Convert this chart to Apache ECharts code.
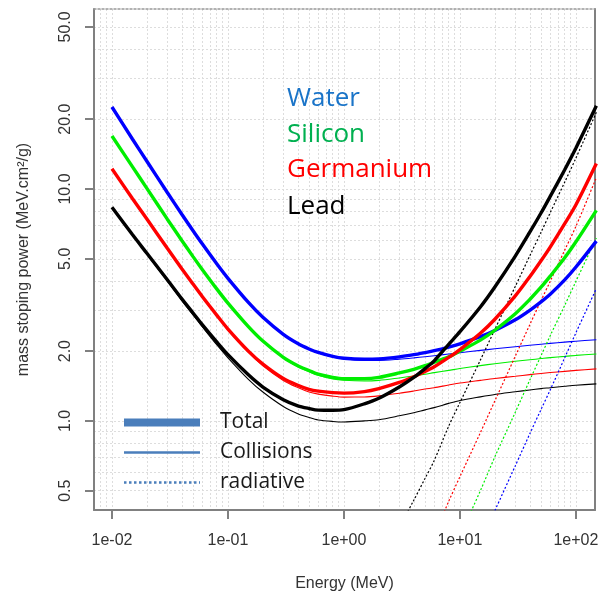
<!DOCTYPE html>
<html><head><meta charset="utf-8">
<script src="https://cdn.jsdelivr.net/npm/echarts@6/dist/echarts.min.js"></script>
<style>html,body{margin:0;padding:0;background:#fff}#c{width:606px;height:597px}</style>
</head><body><div id="c"></div>
<script>
// ---- data (MeV, MeV.cm2/g) ----
const energy = [0.01,0.015,0.02,0.03,0.04,0.05,0.06,0.08,0.1,0.15,0.2,0.3,0.4,0.5,0.6,0.8,1,1.5,2,3,4,5,6,8,10,15,20,30,40,50,60,80,100,150];

const waterTotal = [22.56,16.42,13.17,9.657,7.781,6.607,5.801,4.761,4.120,3.243,2.799,2.362,2.156,2.043,1.973,1.897,1.862,1.844,1.851,1.889,1.930,1.971,2.008,2.082,2.151,2.309,2.456,2.729,2.999,3.262,3.520,4.057,4.607,5.960];
const waterColl  = [22.56,16.42,13.17,9.653,7.777,6.603,5.797,4.757,4.115,3.238,2.793,2.355,2.148,2.034,1.963,1.886,1.849,1.824,1.824,1.846,1.870,1.892,1.911,1.943,1.968,2.014,2.046,2.089,2.119,2.142,2.160,2.187,2.207,2.240];
const waterRad   = [0.0039,0.0040,0.0040,0.0041,0.0042,0.0042,0.0043,0.0044,0.0046,0.0050,0.0055,0.0065,0.0076,0.0088,0.0100,0.0114,0.0129,0.0200,0.0270,0.0430,0.0600,0.0790,0.0970,0.139,0.183,0.295,0.410,0.640,0.880,1.12,1.36,1.87,2.40,3.72];

const siTotal = [16.91,12.49,10.06,7.41,6.00,5.11,4.50,3.71,3.22,2.55,2.21,1.88,1.73,1.65,1.59,1.54,1.52,1.52,1.54,1.61,1.67,1.73,1.79,1.89,2.00,2.23,2.46,2.90,3.34,3.77,4.21,5.05,5.92,8.09];
const siColl  = [16.90,12.48,10.05,7.40,5.99,5.10,4.49,3.70,3.21,2.54,2.20,1.87,1.71,1.63,1.574,1.518,1.498,1.487,1.496,1.532,1.561,1.589,1.615,1.652,1.683,1.732,1.764,1.807,1.835,1.857,1.875,1.898,1.916,1.944];
const siRad   = [0.0093,0.0096,0.0098,0.0101,0.0103,0.0105,0.0107,0.0110,0.0113,0.0120,0.0126,0.0139,0.0152,0.0165,0.0178,0.0205,0.0235,0.034,0.047,0.075,0.105,0.137,0.170,0.240,0.318,0.50,0.70,1.09,1.50,1.91,2.33,3.15,4.00,6.15];

const geTotal = [12.22,9.10,7.42,5.55,4.53,3.89,3.44,2.86,2.49,2.00,1.76,1.525,1.425,1.368,1.344,1.324,1.318,1.338,1.379,1.466,1.551,1.632,1.711,1.878,2.031,2.386,2.744,3.458,4.183,4.902,5.616,7.086,8.551,12.876];
const geColl  = [12.20,9.08,7.40,5.53,4.51,3.87,3.42,2.84,2.47,1.975,1.73,1.495,1.392,1.332,1.305,1.279,1.267,1.268,1.282,1.316,1.346,1.372,1.391,1.428,1.456,1.496,1.524,1.558,1.583,1.602,1.616,1.636,1.651,1.676];
const geRad   = [0.020,0.021,0.021,0.022,0.022,0.023,0.023,0.024,0.024,0.026,0.027,0.030,0.033,0.036,0.039,0.045,0.051,0.070,0.097,0.150,0.205,0.260,0.320,0.450,0.575,0.89,1.22,1.90,2.60,3.30,4.00,5.45,6.90,11.2];

const pbTotal = [8.34,6.36,5.28,4.06,3.36,2.92,2.60,2.19,1.93,1.58,1.40,1.234,1.162,1.131,1.113,1.111,1.118,1.185,1.252,1.400,1.540,1.681,1.816,2.140,2.425,3.10,3.78,5.135,6.51,7.878,9.29,12.11,15.025,22.845];
const pbColl  = [8.30,6.32,5.24,4.01,3.31,2.866,2.551,2.131,1.872,1.512,1.332,1.154,1.074,1.035,1.010,0.995,0.990,1.000,1.012,1.052,1.085,1.116,1.141,1.190,1.225,1.27,1.30,1.335,1.36,1.378,1.39,1.41,1.425,1.445];
const pbRad   = [0.040,0.042,0.044,0.046,0.048,0.050,0.052,0.055,0.058,0.064,0.070,0.080,0.088,0.096,0.103,0.116,0.128,0.185,0.240,0.348,0.455,0.565,0.675,0.95,1.20,1.83,2.48,3.80,5.15,6.50,7.90,10.7,13.6,21.4];

const materials = ['Water','Silicon','Germanium','Lead'];
const legendNames = ['Total','Collisions','radiative'];

const xTickValues = [0.01,0.1,1,10,100];
const xTickLabels = ['1e-02','1e-01','1e+00','1e+01','1e+02'];
const yTickValues = [0.5,1,2,5,10,20,50];
const yTickLabels = ['0.5','1.0','2.0','5.0','10.0','20.0','50.0'];
const xGridValues = [0.007,0.008,0.009,0.01,0.02,0.03,0.04,0.05,0.06,0.07,0.08,0.09,0.1,0.2,0.3,0.4,0.5,0.6,0.7,0.8,0.9,1,2,3,4,5,6,7,8,9,10,20,30,40,50,60,70,80,90,100];
const yGridValues = [0.5,0.6,0.7,0.8,0.9,1,2,3,4,5,6,7,8,9,10,20,30,40,50];

// ---- styles ----
const matStyle = {
  Water:     {line:'#0000ff', text:'#1a74c8'},
  Silicon:   {line:'#00ee00', text:'#00b050'},
  Germanium: {line:'#ff0000', text:'#ff0000'},
  Lead:      {line:'#000000', text:'#000000'}
};
const legendColor = '#4a7ebb';
const legendLine = {
  Total:      {width:8,   type:'solid'},
  Collisions: {width:2.5, type:'solid'},
  radiative:  {width:2.5, type:[2.5,2.5]}
};
const tickFont = 'Liberation Sans';
const X_MIN = 0.007, X_MAX = 146, Y_MIN = 0.413, Y_MAX = 59.7;

const curves = {
  Water:     {total: waterTotal, coll: waterColl, rad: waterRad},
  Silicon:   {total: siTotal,    coll: siColl,    rad: siRad},
  Germanium: {total: geTotal,    coll: geColl,    rad: geRad},
  Lead:      {total: pbTotal,    coll: pbColl,    rad: pbRad}
};

function pts(vals){ return energy.map((e,i)=>[e, vals[i]]); }
function lookup(values, labels){
  return function(v){
    let i = values.findIndex(t => Math.abs(t - v) / t < 1e-6);
    if (i < 0) { const p = Math.pow(10, v); i = values.findIndex(t => Math.abs(t - p) / t < 1e-6); }
    return i >= 0 ? labels[i] : '';
  };
}

const series = [];
materials.forEach(m => {
  series.push({name: m + ' collisions', type:'line', xAxisIndex:0, yAxisIndex:0, data: pts(curves[m].coll),
    symbol:'none', smooth:0.3, lineStyle:{color: matStyle[m].line, width:1.1}, z:3, silent:true});
});
materials.forEach(m => {
  series.push({name: m + ' radiative', type:'line', xAxisIndex:0, yAxisIndex:0, data: pts(curves[m].rad),
    symbol:'none', smooth:0.3, lineStyle:{color: matStyle[m].line, width:1.2, type:[2,2]}, z:3, silent:true});
});
materials.forEach(m => {
  series.push({name: m + ' total', type:'line', xAxisIndex:0, yAxisIndex:0, data: pts(curves[m].total),
    symbol:'none', smooth:0.3, lineStyle:{color: matStyle[m].line, width:3.4}, z:4, silent:true});
});
// legend-only entries (line style keys)
legendNames.forEach(n => {
  series.push({name:n, type:'line', xAxisIndex:0, yAxisIndex:0, data:[], symbol:'none',
    lineStyle:{color: legendColor, width: legendLine[n].width, type: legendLine[n].type}, itemStyle:{color: legendColor}});
});

const matY = [99, 135, 170, 207];
const graphics = materials.map((m,i) => ({
  type:'text', x:287, y:matY[i], z:10,
  style:{text:m, fill:matStyle[m].text, font:'26px "Open Sans"', textVerticalAlign:'middle'}
}));

const option = {
  animation:false,
  backgroundColor:'#ffffff',
  grid:{left:94, right:11, top:9, bottom:87, containLabel:false},
  xAxis:[
    {type:'log', logBase:10, min:X_MIN, max:X_MAX, position:'bottom',
     axisLine:{show:true, onZero:false, lineStyle:{color:'#808080', width:2}},
     axisTick:{show:true, length:9, customValues:xTickValues, lineStyle:{color:'#808080', width:2}},
     axisLabel:{customValues:xTickValues, formatter:lookup(xTickValues, xTickLabels), margin:23,
       fontSize:16, fontFamily:tickFont, color:'#333'},
     splitLine:{show:true, lineStyle:{color:'#a8a8a8', width:1, type:[2,2]}},
     name:'Energy (MeV)', nameLocation:'middle', nameGap:66,
     nameTextStyle:{fontSize:16, fontFamily:tickFont, color:'#333'}},
    {type:'log', logBase:10, min:X_MIN, max:X_MAX, position:'top',
     axisLine:{show:true, onZero:false, lineStyle:{color:'#999999', width:1.5, type:[2,2]}},
     axisTick:{show:false, customValues:xGridValues},
     axisLabel:{show:false},
     splitLine:{show:true, lineStyle:{color:'#dddddd', width:1, type:[2,2]}}}
  ],
  yAxis:[
    {type:'log', logBase:10, min:Y_MIN, max:Y_MAX, position:'left',
     axisLine:{show:true, onZero:false, lineStyle:{color:'#808080', width:2}},
     axisTick:{show:true, length:9, customValues:yTickValues, lineStyle:{color:'#808080', width:2}},
     axisLabel:{customValues:yTickValues, formatter:lookup(yTickValues, yTickLabels), rotate:90, margin:20,
       fontSize:16, fontFamily:tickFont, color:'#333'},
     splitLine:{show:true, lineStyle:{color:'#a8a8a8', width:1, type:[2,2]}},
     name:'mass stoping power (MeV.cm²/g)', nameLocation:'middle', nameGap:62, nameRotate:90,
     nameTextStyle:{fontSize:16, fontFamily:tickFont, color:'#333'}},
    {type:'log', logBase:10, min:Y_MIN, max:Y_MAX, position:'right',
     axisLine:{show:true, onZero:false, lineStyle:{color:'#808080', width:2}},
     axisTick:{show:false, customValues:yGridValues},
     axisLabel:{show:false},
     splitLine:{show:true, lineStyle:{color:'#dddddd', width:1, type:[2,2]}}}
  ],
  legend:{
    orient:'vertical', left:120, top:412, padding:0,
    itemWidth:76, itemHeight:14, itemGap:9,
    data: legendNames.map(n => ({name:n, lineStyle:{color:legendColor, width:legendLine[n].width, type:legendLine[n].type}})),
    selectedMode:false,
    itemStyle:{color:'rgba(0,0,0,0)', borderWidth:0},
    textStyle:{fontFamily:'Open Sans', fontSize:21, color:'#1a1a1a', padding:[0,0,0,15]}
  },
  graphic: graphics,
  series: series
};

const chart = echarts.init(document.getElementById('c'), null, {renderer:'canvas'});
chart.setOption(option);
</script></body></html>
